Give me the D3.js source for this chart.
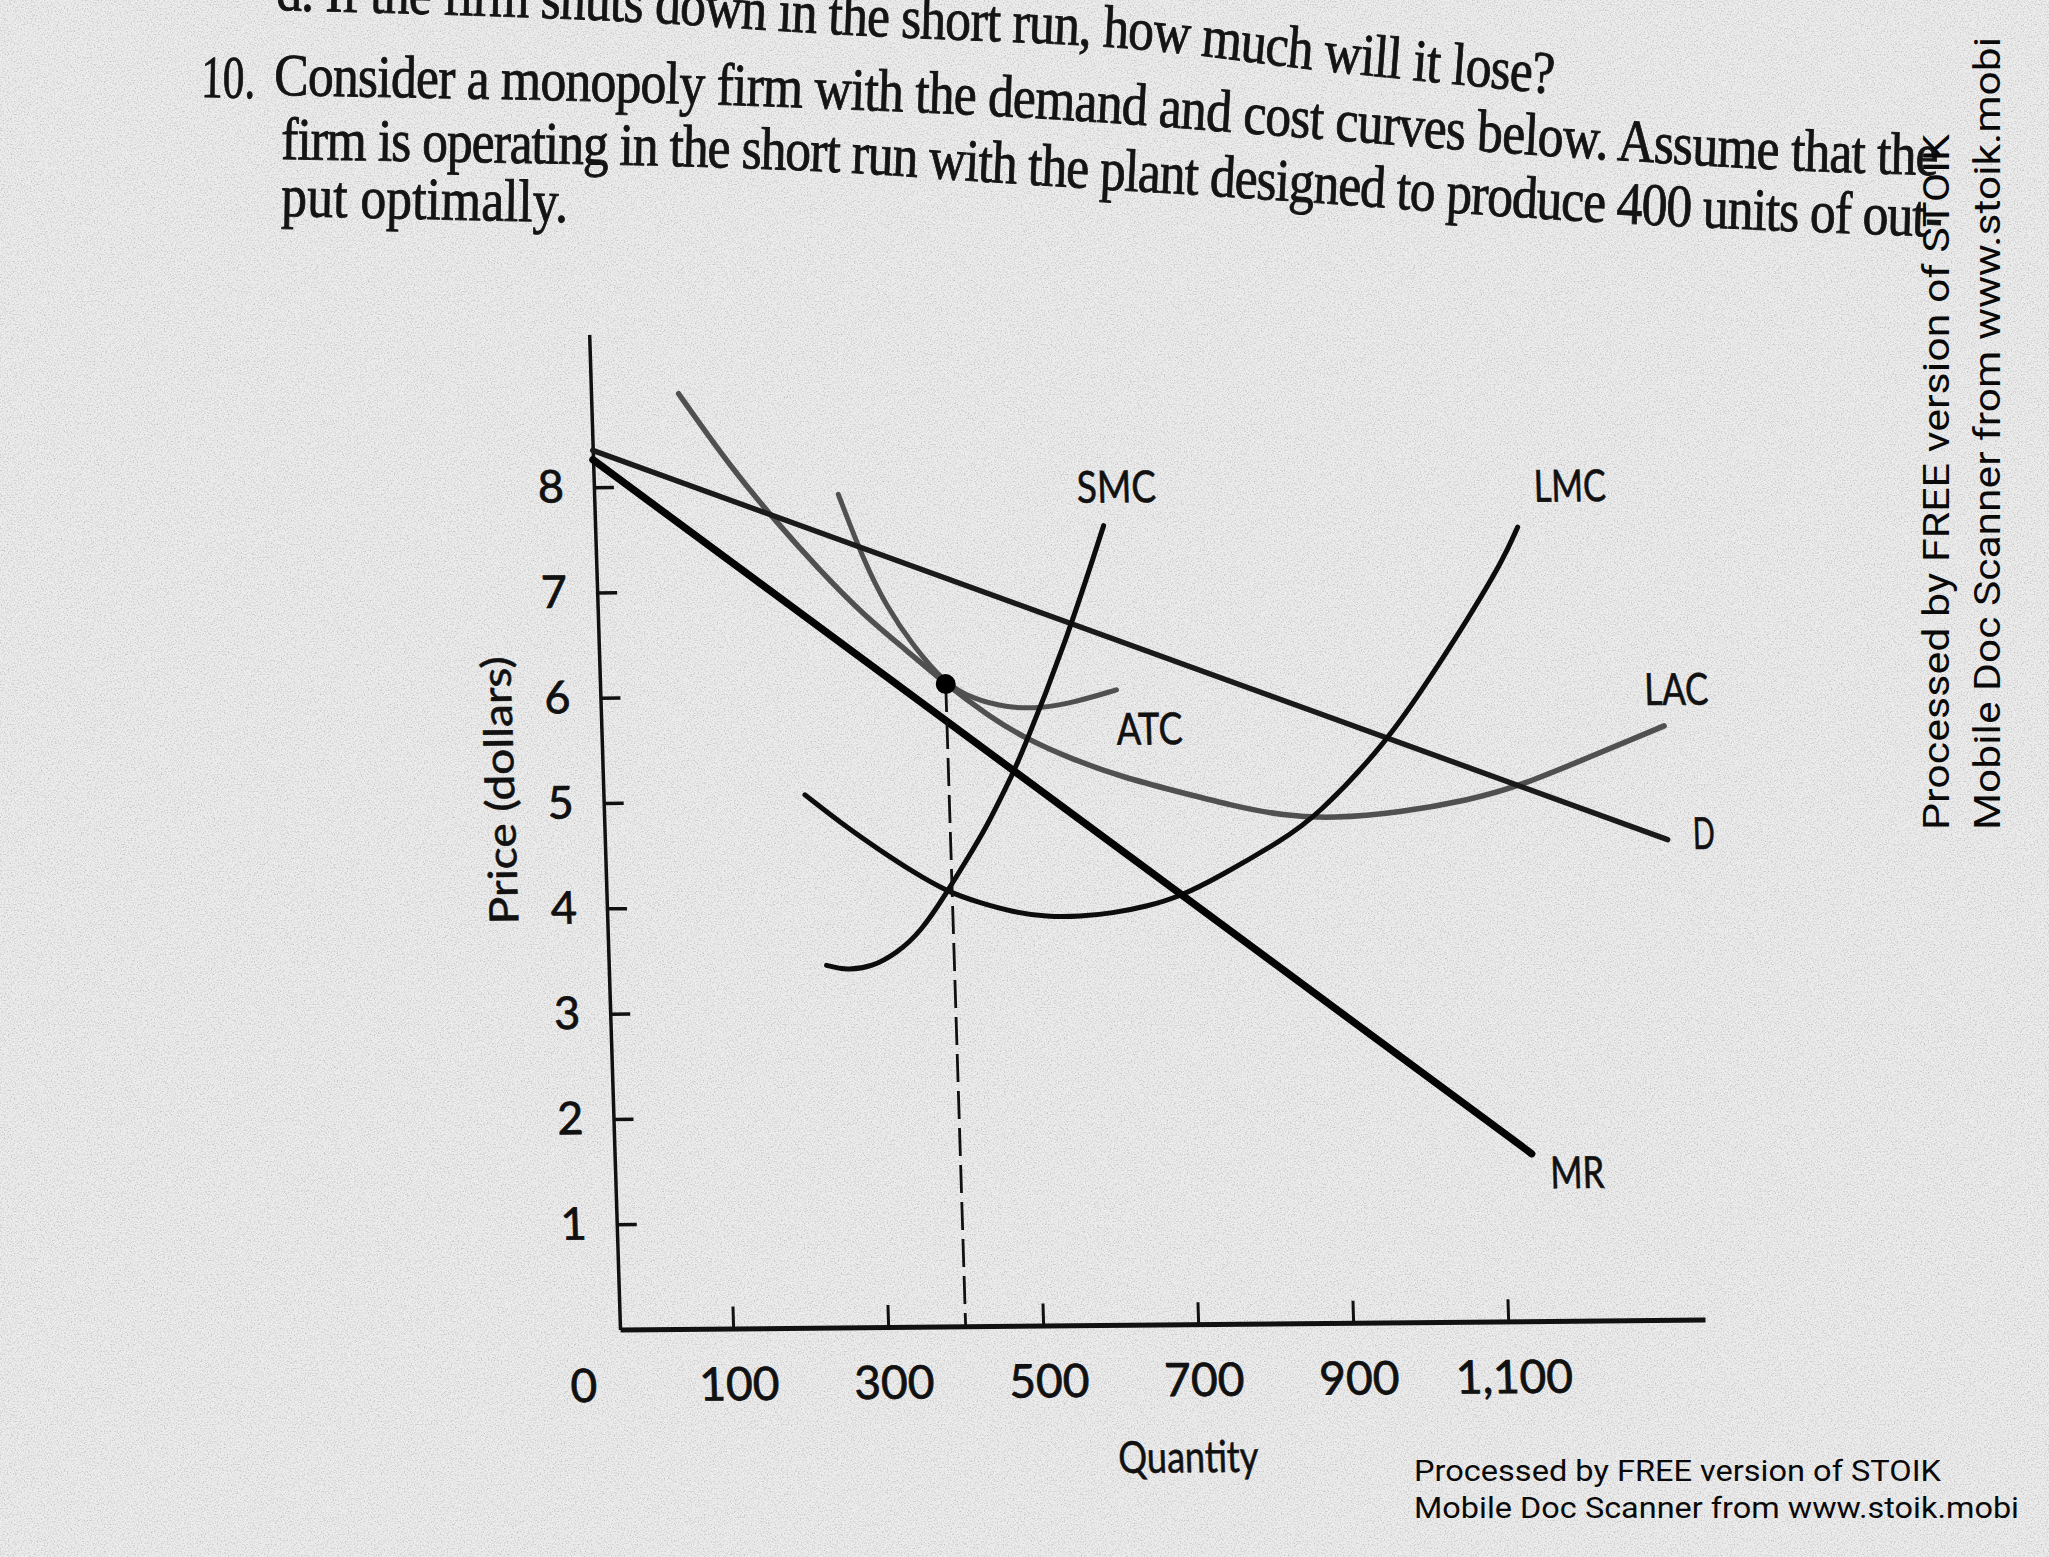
<!DOCTYPE html>
<html>
<head>
<meta charset="utf-8">
<script src="https://cdn.jsdelivr.net/npm/d3@7"></script>
<style>
html,body{margin:0;padding:0;background:#e9e9e9;}
svg{display:block;}
</style>
</head>
<body>
<svg id="chart" width="2049" height="1557"></svg>
<script>
// ---------------- data ----------------
const xTicks = [100, 300, 500, 700, 900, 1100];
const yTicks = [1, 2, 3, 4, 5, 6, 7, 8];
const xDomain = [-46, 1354];      // vertical axis sits a little left of the 0 mark
const yDomain = [0, 9.45];

const demandQ = [-46, 1325];
const demandP = [8.35, 4.56];
const mrQ = [-46, 1137];
const mrP = [8.26, 1.59];
const smcQ = [235, 260, 294, 326, 357, 393, 420, 447, 474, 492, 558, 610];
const smcP = [3.44, 3.39, 3.42, 3.55, 3.74, 4.12, 4.43, 4.74, 5.12, 5.37, 6.51, 7.59];
const lmcQ = [214, 266, 308, 350, 393, 435, 477, 521, 564, 606, 650, 693, 746, 828, 873, 967, 1029, 1075, 1124, 1144];
const lmcP = [5.06, 4.75, 4.53, 4.32, 4.13, 4.02, 3.93, 3.88, 3.88, 3.91, 3.97, 4.06, 4.25, 4.59, 4.81, 5.51, 6.16, 6.66, 7.23, 7.54];
const atcQ = [269, 299, 326, 359, 400, 434, 477, 520, 563, 620];
const atcP = [7.91, 7.28, 6.85, 6.47, 6.10, 5.96, 5.87, 5.86, 5.91, 6.03];
const lacQ = [67, 130, 186, 241, 297, 353, 400, 455, 497, 561, 625, 689, 765, 830, 894, 981, 1068, 1133, 1241, 1325];
const lacP = [8.88, 8.19, 7.67, 7.20, 6.76, 6.41, 6.10, 5.79, 5.59, 5.37, 5.20, 5.07, 4.92, 4.82, 4.79, 4.84, 4.95, 5.07, 5.39, 5.64];
const plantQ = 400;
const plantP = 6.1;

const curveLabels = ['SMC', 'LMC', 'ATC', 'LAC', 'D', 'MR'];
const labelQ = [628, 1213, 661, 1342, 1372, 1195];
const labelP = [7.96, 7.93, 5.66, 5.99, 4.62, 1.41];

const xTitle = 'Quantity';
const yTitle = 'Price (dollars)';
const originLabel = '0';

const headerTexts = [
  'd. If the firm shuts down in the short run, how much will it lose?',
  'Consider a monopoly firm with the demand and cost curves below. Assume that the',
  'firm is operating in the short run with the plant designed to produce 400 units of out-',
  'put optimally.'
];
const questionNumber = '10.';
const watermark = ['Processed by FREE version of STOIK', 'Mobile Doc Scanner from www.stoik.mobi'];

// ---------------- layout / style ----------------
const W = 2049, H = 1557;
const svg = d3.select('#chart');
const defs = svg.append('defs');

// paper texture
const filt = defs.append('filter').attr('id', 'paper')
  .attr('x', 0).attr('y', 0).attr('width', 1).attr('height', 1);
filt.append('feTurbulence').attr('type', 'fractalNoise')
  .attr('baseFrequency', 0.7).attr('numOctaves', 3).attr('seed', 7);
filt.append('feColorMatrix').attr('type', 'matrix')
  .attr('values', '0 0 0 0 0.55  0 0 0 0 0.55  0 0 0 0 0.55  2.6 0 0 0 -1.2');
svg.append('rect').attr('width', W).attr('height', H).attr('fill', '#ececec');
svg.append('rect').attr('width', W).attr('height', H).attr('filter', 'url(#paper)');

// chart frame (slight photographic shear)
const ORIGIN_X = 620, ORIGIN_Y = 1329.5, SHEAR_B = -0.0092, SHEAR_C = 0.031;
const g = svg.append('g')
  .attr('transform', `matrix(1,${SHEAR_B},${SHEAR_C},1,${ORIGIN_X},${ORIGIN_Y})`);

const x = d3.scaleLinear().domain(xDomain).range([0, 1085]);
const y = d3.scaleLinear().domain(yDomain).range([0, -995]);

const chartFont = 'Lato, "Noto Sans", sans-serif';
const ink = '#111';

// axes
const yAxis = d3.axisLeft(y).tickValues(yTicks).tickSizeInner(-20).tickSizeOuter(0)
  .tickPadding(30).tickFormat(d3.format('d'));
const ya = g.append('g').attr('transform', `translate(${x(xDomain[0])},0)`).call(yAxis);
ya.select('.domain').attr('stroke', ink).attr('stroke-width', 3.5);
ya.selectAll('.tick line').attr('stroke', ink).attr('stroke-width', 3.5);
ya.selectAll('.tick text').attr('font-family', chartFont).attr('font-size', 45).attr('fill', ink)
  .attr('stroke', ink).attr('stroke-width', 0.8);

const xAxis = d3.axisBottom(x).tickValues(xTicks).tickSizeInner(-22).tickSizeOuter(0)
  .tickPadding(39).tickFormat(d3.format(','));
const xa = g.append('g').call(xAxis);
xa.select('.domain').attr('stroke', ink).attr('stroke-width', 5);
xa.selectAll('.tick line').attr('stroke', ink).attr('stroke-width', 3);
xa.selectAll('.tick text').attr('font-family', chartFont).attr('font-size', 46).attr('fill', ink)
  .attr('stroke', ink).attr('stroke-width', 0.8).attr('dx', 4);

g.append('text').attr('x', x(xDomain[0]) - 38).attr('y', 72)
  .attr('text-anchor', 'middle').attr('font-family', chartFont).attr('font-size', 46)
  .attr('fill', ink).attr('stroke', ink).attr('stroke-width', 0.8).text(originLabel);

g.append('text').attr('transform', `translate(${x(xDomain[0]) - 89},${y(5.13)}) rotate(-90)`)
  .attr('text-anchor', 'middle').attr('font-family', chartFont).attr('font-size', 40)
  .attr('textLength', 268).attr('lengthAdjust', 'spacingAndGlyphs')
  .attr('fill', ink).attr('stroke', ink).attr('stroke-width', 0.6).text(yTitle);

g.append('text').attr('x', x(682)).attr('y', 148)
  .attr('text-anchor', 'middle').attr('font-family', chartFont).attr('font-size', 44)
  .attr('textLength', 140).attr('lengthAdjust', 'spacingAndGlyphs')
  .attr('fill', ink).attr('stroke', ink).attr('stroke-width', 0.6).text(xTitle);

// curves
const pairs = (qs, ps) => qs.map((q, i) => [q, ps[i]]);
const smooth = d3.line().x(d => x(d[0])).y(d => y(d[1])).curve(d3.curveBasis);
const straight = d3.line().x(d => x(d[0])).y(d => y(d[1]));

const curves = [
  {pts: pairs(lacQ, lacP), gen: smooth, color: '#505050', w: 5.5},
  {pts: pairs(atcQ, atcP), gen: smooth, color: '#505050', w: 5},
  {pts: pairs(demandQ, demandP), gen: straight, color: '#1a1a1a', w: 5.5},
  {pts: pairs(smcQ, smcP), gen: smooth, color: '#0d0d0d', w: 5},
  {pts: pairs(lmcQ, lmcP), gen: smooth, color: '#0d0d0d', w: 5},
  {pts: pairs(mrQ, mrP), gen: straight, color: '#050505', w: 7.5}
];
g.selectAll('path.curve').data(curves).join('path').attr('class', 'curve')
  .attr('d', d => d.gen(d.pts)).attr('fill', 'none')
  .attr('stroke', d => d.color).attr('stroke-width', d => d.w)
  .attr('stroke-linecap', 'round').attr('stroke-linejoin', 'round');

// plant point and dashed drop line
g.append('line').attr('x1', x(plantQ)).attr('x2', x(plantQ))
  .attr('y1', y(plantP)).attr('y2', y(0))
  .attr('stroke', ink).attr('stroke-width', 2.8).attr('stroke-dasharray', '28,9');
g.append('circle').attr('cx', x(plantQ)).attr('cy', y(plantP)).attr('r', 10).attr('fill', '#000');

// curve labels
const labelWidths = [79, 72, 66, 64, 22, 54];
g.selectAll('text.clabel').data(curveLabels).join('text').attr('class', 'clabel')
  .attr('x', (d, i) => x(labelQ[i])).attr('y', (d, i) => y(labelP[i]))
  .attr('dy', '0.36em').attr('text-anchor', 'middle')
  .attr('font-family', chartFont).attr('font-size', 44).attr('fill', ink)
  .attr('stroke', ink).attr('stroke-width', 0.7)
  .attr('textLength', (d, i) => labelWidths[i]).attr('lengthAdjust', 'spacingAndGlyphs')
  .text(d => d);

// ---------------- header text (curved page, condensed serif) ----------------
const serif = '"Liberation Serif", "DejaVu Serif", serif';
const serifSize = 60;
const SX = 0.86;   // horizontal condensing of the printed face
function fitSpacing(str, target) {
  const t = svg.append('text').attr('font-family', serif).attr('font-size', serifSize).text(str);
  const len = t.node().getComputedTextLength();
  t.remove();
  return (target / SX - len) / str.length;
}
const headerLayout = [
  {pts: [[276, 10], [620, 21], [850, 35], [1110, 47], [1300, 68], [1555, 94], [1700, 110]], fit: headerTexts[0], target: 1279},
  {pts: [[274, 95], [627, 102], [889, 111], [1098, 122], [1346, 141], [1568, 157], [1790, 170], [1931, 175], [2045, 179]], fit: 'Consider a monopoly firm with the demand and cost curves below. Assume that th', target: 1643},
  {pts: [[281, 159], [740, 168], [990, 182], [1290, 201], [1600, 222], [1920, 236], [2045, 240]], fit: 'firm is operating in the short run with the plant designed to produce 400 units of ou', target: 1632},
  {pts: [[281, 216], [568, 222], [700, 224]], fit: headerTexts[3], target: 287}
];
const pathGen = d3.line().curve(d3.curveNatural).x(d => d[0] / SX).y(d => d[1]);
const hg = svg.append('g').attr('transform', `scale(${SX},1)`);
headerLayout.forEach((L, i) => {
  defs.append('path').attr('id', 'hl' + i).attr('d', pathGen(L.pts));
  const ls = fitSpacing(L.fit, L.target);
  hg.append('text').attr('font-family', serif).attr('font-size', serifSize)
    .attr('fill', '#141414').attr('stroke', '#141414').attr('stroke-width', 0.9)
    .attr('letter-spacing', ls)
    .append('textPath').attr('href', '#hl' + i).text(headerTexts[i]);
});
svg.append('text').attr('transform', 'translate(201,97) rotate(1)')
  .attr('font-family', serif).attr('font-size', serifSize)
  .attr('fill', '#141414').attr('stroke', '#141414').attr('stroke-width', 0.9)
  .attr('textLength', 54).attr('lengthAdjust', 'spacingAndGlyphs')
  .text(questionNumber);

// ---------------- scanner watermarks ----------------
const wmFont = 'Roboto, "Noto Sans", sans-serif';
svg.append('text').attr('transform', 'translate(1949,830) rotate(-90)')
  .attr('font-family', wmFont).attr('font-size', 37).attr('fill', '#0a0a0a')
  .attr('textLength', 696).attr('lengthAdjust', 'spacingAndGlyphs').text(watermark[0]);
svg.append('text').attr('transform', 'translate(2000,830) rotate(-90)')
  .attr('font-family', wmFont).attr('font-size', 37).attr('fill', '#0a0a0a')
  .attr('textLength', 793).attr('lengthAdjust', 'spacingAndGlyphs').text(watermark[1]);
svg.append('text').attr('x', 1414).attr('y', 1481)
  .attr('font-family', wmFont).attr('font-size', 29).attr('fill', '#0a0a0a')
  .attr('textLength', 527).attr('lengthAdjust', 'spacingAndGlyphs').text(watermark[0]);
svg.append('text').attr('x', 1414).attr('y', 1518)
  .attr('font-family', wmFont).attr('font-size', 29).attr('fill', '#0a0a0a')
  .attr('textLength', 605).attr('lengthAdjust', 'spacingAndGlyphs').text(watermark[1]);
</script>
</body>
</html>
